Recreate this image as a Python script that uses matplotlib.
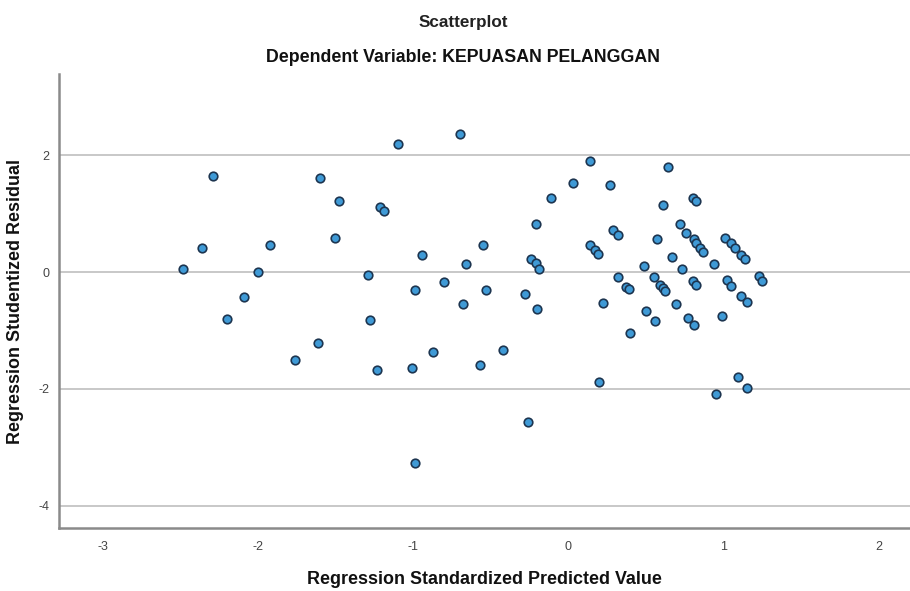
import matplotlib
matplotlib.use("Agg")
import matplotlib.pyplot as plt

plt.rcParams['font.family'] = ['Liberation Sans', 'DejaVu Sans']

pred = [-2.48, -2.36, -2.29, -2.20, -2.09, -2.00, -1.92, -1.76, -1.61, -1.60,
        -1.50, -1.48, -1.10, -0.70, -1.21, -1.19, -1.29, -1.28, -0.94, -0.985,
        -0.80, -0.68, -0.66, -0.55, -0.53, -0.87, -0.42, -0.28, -0.24, -0.21,
        -0.19, -0.20, -0.21, -0.11, 0.03, 0.14, 0.14, 0.17, 0.19, 0.22,
        0.27, 0.64, 0.61, 0.80, 0.82, 0.29, 0.32, 0.57, 0.72, 0.76,
        0.81, 0.82, 0.845, 0.87, 0.67, 0.49, 0.73, 0.94, 1.01, 1.05,
        1.07, 1.11, 1.14, 1.23, 1.25, 0.32, 0.37, 0.39, 0.55, 0.59,
        0.61, 0.62, 0.80, 0.82, 1.02, 1.05, 1.11, 1.15, 0.50, 0.56,
        0.69, 0.77, 0.81, 0.99, 0.40, 0.20, 1.09, -0.26, 0.95, 1.15,
        -1.23, -1.01, -0.57, -0.985]
resid = [0.06, 0.42, 1.65, -0.80, -0.43, 0.00, 0.46, -1.50, -1.22, 1.61,
         0.59, 1.22, 2.20, 2.37, 1.12, 1.05, -0.05, -0.82, 0.29, -0.31,
         -0.17, -0.54, 0.13, 0.47, -0.30, -1.36, -1.34, -0.37, 0.22, 0.15,
         0.06, -0.63, 0.83, 1.27, 1.52, 1.90, 0.47, 0.38, 0.31, -0.53,
         1.49, 1.79, 1.15, 1.27, 1.22, 0.72, 0.63, 0.56, 0.82, 0.67,
         0.56, 0.50, 0.42, 0.35, 0.26, 0.11, 0.05, 0.13, 0.59, 0.49,
         0.42, 0.29, 0.22, -0.06, -0.15, -0.09, -0.25, -0.29, -0.08, -0.22,
         -0.27, -0.33, -0.15, -0.22, -0.13, -0.23, -0.41, -0.52, -0.67, -0.83,
         -0.54, -0.78, -0.90, -0.75, -1.04, -1.88, -1.79, -2.57, -2.09, -1.99,
         -1.68, -1.65, -1.59, -3.26]

x_ticks = [-3, -2, -1, 0, 1, 2]
y_ticks = [-4, -2, 0, 2]

fig = plt.figure(figsize=(9.1, 5.91), dpi=100)
ax = fig.add_axes([59/910, 1 - 528/591, 1 - 59/910, (528 - 74)/591])

ax.set_xlim(-3.28, 2.2)
ax.set_ylim(-4.38, 3.39)

for yt in y_ticks:
    ax.axhline(yt, color='#c8c8c8', lw=1.4, zorder=1)

ax.scatter(pred, resid, s=38, facecolor='#3f9ad6', edgecolor='#1d3550',
           linewidth=1.2, zorder=3)

ax.set_xticks(x_ticks)
ax.set_yticks(y_ticks)
ax.set_xticklabels([str(v) for v in x_ticks])
ax.set_yticklabels([str(v) for v in y_ticks])
ax.tick_params(axis='both', length=0, labelsize=9, labelcolor='#444444')
ax.tick_params(axis='x', pad=9)
ax.tick_params(axis='y', pad=7)

for s in ['top', 'right']:
    ax.spines[s].set_visible(False)
for s in ['left', 'bottom']:
    ax.spines[s].set_color('#8a8a8a')
    ax.spines[s].set_linewidth(1.8)

ax.set_xlabel('Regression Standardized Predicted Value', fontsize=12.9,
              fontweight='bold', labelpad=13, color='#111111')
ax.set_ylabel('Regression Studentized Residual', fontsize=12.9,
              fontweight='bold', labelpad=10, color='#111111')

fig.text(463/910, 1 - 22/591, 'Scatterplot', ha='center', va='center',
         fontsize=12.3, fontweight='bold', color='#222222')
fig.text(463/910, 1 - 58/591, 'Dependent Variable: KEPUASAN PELANGGAN',
         ha='center', va='center', fontsize=12.8, fontweight='bold',
         color='#111111')

fig.savefig('out.png', dpi=100)
